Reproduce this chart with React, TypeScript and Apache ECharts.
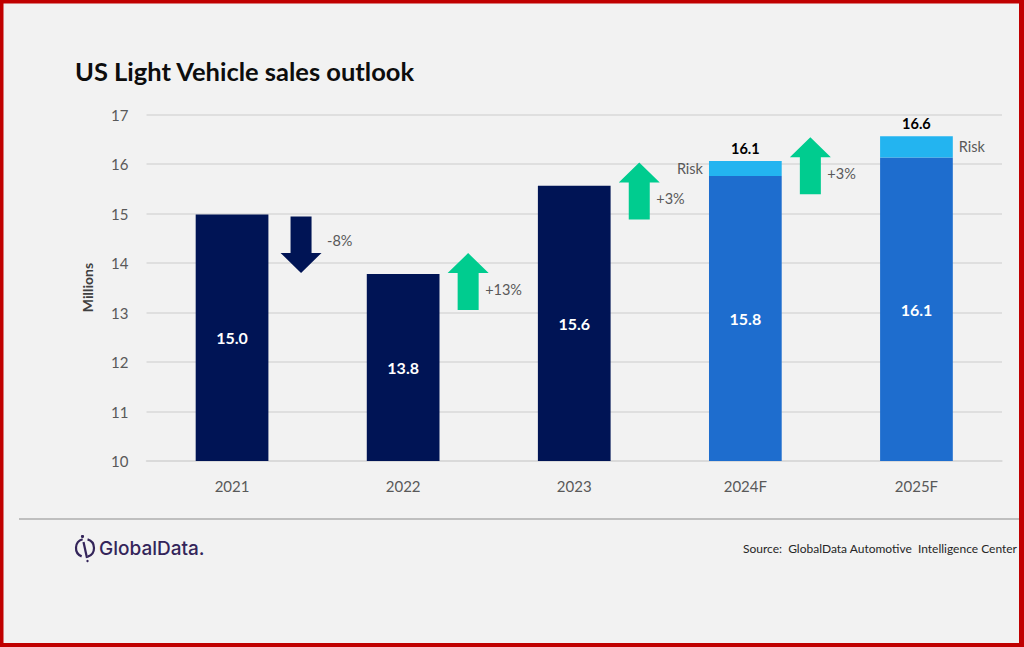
import React, { useEffect, useRef } from "react";
import * as echarts from "echarts";

const categories = ["2021", "2022", "2023", "2024F", "2025F"];
const baseValues = [14.98, 13.78, 15.56, 15.76, 16.13];
const riskValues: (number | null)[] = [null, null, null, 0.3, 0.43];
const isForecast = [false, false, false, true, true];

const arrowCategory = [0, 1, 2, 3];
const arrowFrom = [14.94, 13.05, 14.88, 15.39];
const arrowTo = [13.8, 14.2, 16.03, 16.54];
const arrowLabels = ["-8%", "+13%", "+3%", "+3%"];

const yMin = 10;
const yMax = 17;
const yInterval = 1;

const FONT = "Lato, 'Open Sans', sans-serif";
const NAVY = "#001455";
const BLUE = "#1e6dce";
const RISK = "#23b4f0";
const GREEN = "#00cc8f";
const GREY_TEXT = "#595959";

export default function App() {
  const ref = useRef<HTMLDivElement>(null);

  useEffect(() => {
    if (!ref.current) return;
    const chart = echarts.init(ref.current, undefined, { renderer: "svg" });

    const baseData = baseValues.map((v, i) => ({
      value: v,
      itemStyle: { color: isForecast[i] ? BLUE : NAVY },
    }));

    const riskData = riskValues.map((v, i) =>
      v == null
        ? null
        : {
            value: v,
            label: {
              show: true,
              position: i === 3 ? "left" : "right",
              distance: 6,
              formatter: "Risk",
              color: GREY_TEXT,
              fontSize: 14.5,
              fontFamily: FONT,
            },
          }
    );

    const totalData = riskValues.map((v) => (v == null ? null : 0));

    const arrowData = arrowCategory.map((c, i) => [c, arrowFrom[i], arrowTo[i]]);

    const option: any = {
      animation: false,
      backgroundColor: "#f2f2f2",
      textStyle: { fontFamily: FONT },
      grid: { left: 146.5, right: 22, top: 114.5, bottom: 186, containLabel: false },
      xAxis: {
        type: "category",
        data: categories,
        axisTick: { show: false },
        axisLine: { show: true, lineStyle: { color: "#d9d9d9", width: 1.5 } },
        axisLabel: { color: GREY_TEXT, fontSize: 15, margin: 17, fontFamily: FONT },
      },
      yAxis: {
        type: "value",
        min: yMin,
        max: yMax,
        interval: yInterval,
        axisLine: { show: false },
        axisTick: { show: false },
        axisLabel: { color: GREY_TEXT, fontSize: 15, margin: 18, fontFamily: FONT },
        splitLine: { lineStyle: { color: "#d9d9d9", width: 1.5 } },
      },
      series: [
        {
          name: "Sales",
          type: "bar",
          stack: "total",
          barWidth: "42.5%",
          data: baseData,
          label: {
            show: true,
            position: "inside",
            color: "#ffffff",
            fontWeight: "bold",
            fontSize: 16,
            fontFamily: FONT,
            formatter: (p: any) => Number(p.value).toFixed(1),
          },
        },
        {
          name: "Risk",
          type: "bar",
          stack: "total",
          barWidth: "42.5%",
          itemStyle: { color: RISK },
          data: riskData,
        },
        {
          name: "Total",
          type: "bar",
          stack: "total",
          barWidth: "42.5%",
          itemStyle: { color: "transparent" },
          data: totalData,
          label: {
            show: true,
            position: "top",
            distance: 5,
            color: "#000000",
            fontWeight: "bold",
            fontSize: 14.5,
            fontFamily: FONT,
            formatter: (p: any) =>
              (baseValues[p.dataIndex] + (riskValues[p.dataIndex] || 0)).toFixed(1),
          },
        },
        {
          name: "Change",
          type: "custom",
          clip: false,
          data: arrowData,
          encode: { x: 0, y: [1, 2] },
          renderItem: (params: any, api: any) => {
            const idx = api.value(0);
            const from = api.coord([idx, api.value(1)]);
            const to = api.coord([idx, api.value(2)]);
            const up = to[1] < from[1];
            const x = from[0] + (up ? 65 : 69);
            const y1 = from[1];
            const y2 = to[1];
            const dir = up ? -1 : 1;
            const sw = 10.5;
            const hw = 20.5;
            const hl = 20;
            const yb = y2 - dir * hl;
            const label = arrowLabels[params.dataIndex];
            return {
              type: "group",
              children: [
                {
                  type: "polygon",
                  shape: {
                    points: [
                      [x - sw, y1],
                      [x + sw, y1],
                      [x + sw, yb],
                      [x + hw, yb],
                      [x, y2],
                      [x - hw, yb],
                      [x - sw, yb],
                    ],
                  },
                  style: { fill: up ? GREEN : NAVY },
                },
                {
                  type: "text",
                  style: {
                    text: label,
                    x: up ? x + 17 : x + 26,
                    y: up ? y1 - 21 : y1 + 24,
                    fill: GREY_TEXT,
                    font: `14.5px ${FONT}`,
                    align: "left",
                    verticalAlign: "middle",
                  },
                },
              ],
            };
          },
        },
      ],
      graphic: [
        { type: "rect", shape: { x: 0, y: 0, width: 1024, height: 3.5 }, style: { fill: "#c00000" } },
        { type: "rect", shape: { x: 0, y: 0, width: 3.5, height: 647 }, style: { fill: "#c00000" } },
        { type: "rect", shape: { x: 1019, y: 0, width: 5, height: 647 }, style: { fill: "#c00000" } },
        { type: "rect", shape: { x: 0, y: 643, width: 1024, height: 4 }, style: { fill: "#c00000" } },
        {
          type: "text",
          x: 75,
          y: 71,
          style: {
            text: "US Light Vehicle sales outlook",
            fill: "#0d0d0d",
            font: `bold 25.5px ${FONT}`,
            verticalAlign: "middle",
          },
        },
        {
          type: "text",
          x: 87,
          y: 287.5,
          rotation: Math.PI / 2,
          style: {
            text: "Millions",
            fill: "#404040",
            font: `bold 14px ${FONT}`,
            align: "center",
            verticalAlign: "middle",
          },
        },
        {
          type: "line",
          shape: { x1: 19, y1: 519, x2: 1019, y2: 519 },
          style: { stroke: "#bfbfbf", lineWidth: 2 },
        },
        {
          type: "text",
          x: 1017,
          y: 548,
          style: {
            text: "Source:  GlobalData Automotive  Intelligence Center",
            fill: "#262626",
            font: `12px ${FONT}`,
            align: "right",
            verticalAlign: "middle",
          },
        },
        {
          type: "arc",
          shape: { cx: 85, cy: 548, r: 9, startAngle: 1.95, endAngle: 4.45, clockwise: true },
          style: { stroke: "#34255a", lineWidth: 2.2, fill: "none" },
        },
        {
          type: "arc",
          shape: { cx: 85, cy: 548, r: 9, startAngle: 5.0, endAngle: 7.55, clockwise: true },
          style: { stroke: "#34255a", lineWidth: 2.2, fill: "none" },
        },
        {
          type: "line",
          shape: { x1: 83.5, y1: 542, x2: 87, y2: 558 },
          style: { stroke: "#34255a", lineWidth: 2.2 },
        },
        {
          type: "circle",
          shape: { cx: 82.5, cy: 536.5, r: 1.6 },
          style: { fill: "#34255a" },
        },
        {
          type: "circle",
          shape: { cx: 87.5, cy: 561, r: 1.2 },
          style: { fill: "#34255a" },
        },
        {
          type: "text",
          x: 99,
          y: 548,
          style: {
            text: "GlobalData.",
            fill: "#34255a",
            font: `500 19px Inter, ${FONT}`,
            verticalAlign: "middle",
          },
        },
      ],
    };

    chart.setOption(option);
    return () => chart.dispose();
  }, []);

  return (
    <div
      ref={ref}
      style={{ position: "fixed", left: 0, top: 0, width: 1024, height: 647 }}
    />
  );
}
